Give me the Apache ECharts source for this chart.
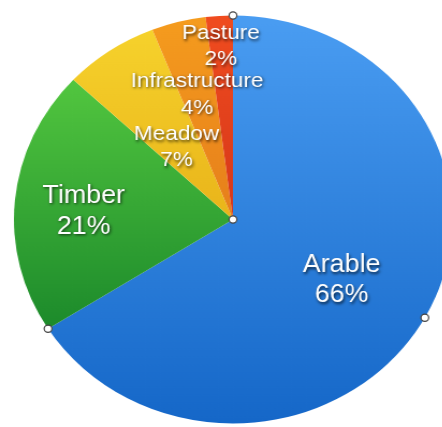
<!DOCTYPE html>
<html>
<head>
<meta charset="utf-8">
<script src="https://cdn.jsdelivr.net/npm/echarts@6/dist/echarts.min.js"></script>
<style>
  html, body { margin: 0; padding: 0; background: #ffffff; overflow: hidden; width: 442px; height: 427px; }
  #chart { width: 412px; height: 427px; transform: scaleX(1.0735); transform-origin: 0 0; }
</style>
</head>
<body>
<div id="chart"></div>
<script>
// ---- data ----
const categories = ['Arable', 'Timber', 'Meadow', 'Infrastructure', 'Pasture'];
const shares = [66, 21, 7, 4, 2];

// ---- styles ----
const CX = 217, CY = 219.5, R = 204;
const sliceColors = [
  ['#4a9df2', '#1567c8'],
  ['#52c63f', '#1c8a2b'],
  ['#f6d22c', '#e9b41a'],
  ['#f59c1e', '#e67e1b'],
  ['#f04c1f', '#d6371a']
];
const labelFontSize = [25, 25, 21, 21, 21];
const labelLineHeight = [30, 31, 26, 27, 26];
const labelRadiusFrac = [0.55, 0.665, 0.445, 0.64, 0.85];
const labelShiftY = 5;

const chart = echarts.init(document.getElementById('chart'), null, { renderer: 'canvas' });

const seriesData = categories.map((name, i) => ({
  name: name,
  value: shares[i],
  itemStyle: {
    color: new echarts.graphic.LinearGradient(0, 0, 0, 1, [
      { offset: 0, color: sliceColors[i][0] },
      { offset: 1, color: sliceColors[i][1] }
    ])
  },
  label: { fontSize: labelFontSize[i], lineHeight: labelLineHeight[i] }
}));

// handle markers derived from the first slice geometry
const total = shares.reduce((a, b) => a + b, 0);
const a0 = 0, a1 = shares[0] / total * 2 * Math.PI, am = (a0 + a1) / 2;
function edgePt(a) { return [CX + R * Math.sin(a), CY - R * Math.cos(a)]; }
const handlePts = [[CX, CY], edgePt(a0), edgePt(a1), edgePt(am)];

chart.setOption({
  animation: false,
  series: [{
    type: 'pie',
    center: [CX, CY],
    radius: [0, R],
    startAngle: 90,
    clockwise: true,
    avoidLabelOverlap: false,
    emphasis: { disabled: true },
    itemStyle: { borderWidth: 0 },
    label: {
      show: true,
      position: 'inside',
      color: '#ffffff',
      fontFamily: 'Liberation Sans, Arial, Helvetica, sans-serif',
      align: 'center',
      textShadowColor: 'rgba(0,0,0,0.7)',
      textShadowBlur: 3,
      textShadowOffsetX: 1,
      textShadowOffsetY: 1.5,
      formatter: p => p.name + '\n' + Math.round(p.percent) + '%'
    },
    labelLine: { show: false },
    labelLayout: function (p) {
      const rc = p.labelRect;
      const lx = rc.x + rc.width / 2, ly = rc.y + rc.height / 2;
      const s = labelRadiusFrac[p.dataIndex] / 0.5 - 1;
      return { dx: (lx - CX) * s, dy: (ly - CY) * s + labelShiftY };
    },
    data: seriesData
  }],
  graphic: handlePts.map(pt => ({
    type: 'circle',
    shape: { cx: pt[0], cy: pt[1], r: 3.6 },
    style: { fill: '#ffffff', stroke: '#444444', lineWidth: 1.2 },
    z: 100
  }))
});
</script>
</body>
</html>
